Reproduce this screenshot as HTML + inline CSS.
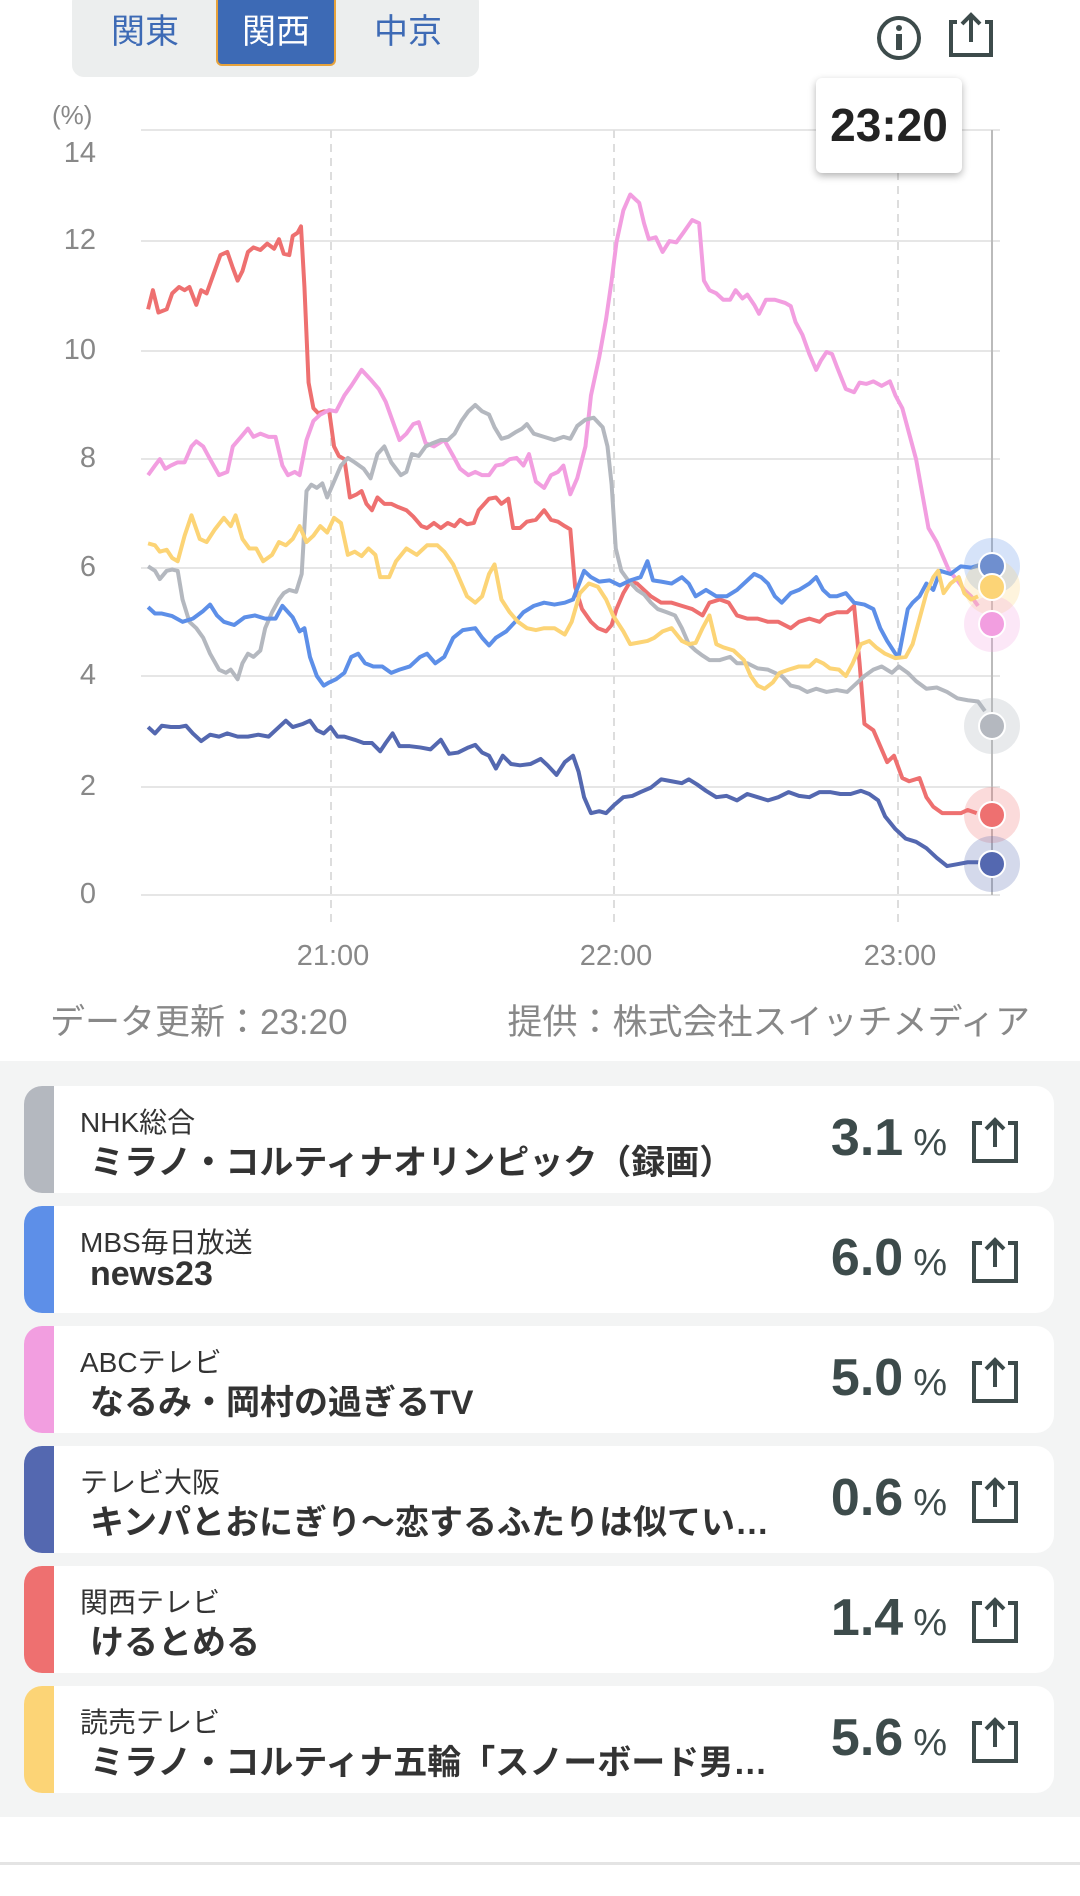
<!DOCTYPE html>
<html><head><meta charset="utf-8">
<style>
*{margin:0;padding:0;box-sizing:border-box}
body{width:1080px;height:1896px;background:#fff;font-family:"Liberation Sans","Noto Sans CJK JP",sans-serif;position:relative;overflow:hidden}
.abs{position:absolute}
.tabs{left:72px;top:-10px;width:407px;height:87px;background:#eceeee;border-radius:12px}
.tab{position:absolute;top:0;height:66px;line-height:64px;font-size:34px;color:#3d6ab5;text-align:center;width:120px}
.sel{left:216px;top:0;width:120px;height:66px;background:#3d6ab5;border:2px solid #e6a23c;border-top:none;border-radius:0 0 6px 6px;color:#fff}
.ylab{font-size:29px;color:#888;width:60px;text-align:right;left:36px}
.xlab{font-size:29px;color:#888;width:120px;text-align:center;top:940px}
.gray{left:0;top:1061px;width:1080px;height:756px;background:#f3f4f4}
.card{position:absolute;left:24px;width:1030px;height:107px;background:#fff;border-radius:18px;overflow:hidden}
.bar{position:absolute;left:0;top:0;width:30px;height:107px}
.ch{position:absolute;left:56px;top:15px;font-size:28px;color:#333}
.ti{position:absolute;left:66px;top:49px;font-size:34px;font-weight:bold;color:#333;white-space:nowrap}
.pc{position:absolute;right:107px;top:22px;font-size:52px;font-weight:bold;color:#3d4b4b}
.pc span{font-size:38px;font-weight:normal;margin-left:10px}
.sh{position:absolute;right:34px;top:31px}
</style></head><body>
<div class="abs tabs"></div>
<div class="abs tab" style="left:85px">関東</div>
<div class="abs tab sel">関西</div>
<div class="abs tab" style="left:348px">中京</div>

<svg class="abs" style="left:0;top:0" width="1080" height="1000">
 <circle cx="899" cy="38" r="20" fill="none" stroke="#3d4b4b" stroke-width="4"/>
 <circle cx="899" cy="28" r="3" fill="#3d4b4b"/>
 <rect x="896" y="34" width="6" height="16" fill="#3d4b4b"/>
 <path d="M957 22 L951 22 L951 55 L991 55 L991 22 L985 22" fill="none" stroke="#3d4b4b" stroke-width="4"/>
 <path d="M971 42 L971 15 M962 24 L971 15 L980 24" fill="none" stroke="#3d4b4b" stroke-width="4"/>
 <g stroke="#e6e6e6" stroke-width="2">
  <line x1="141" x2="1000" y1="130" y2="130"/><line x1="141" x2="1000" y1="241" y2="241"/>
  <line x1="141" x2="1000" y1="351" y2="351"/><line x1="141" x2="1000" y1="459" y2="459"/>
  <line x1="141" x2="1000" y1="568" y2="568"/><line x1="141" x2="1000" y1="676" y2="676"/>
  <line x1="141" x2="1000" y1="787" y2="787"/><line x1="141" x2="1000" y1="895" y2="895"/>
 </g>
 <g stroke="#ddd" stroke-width="2" stroke-dasharray="8,6">
  <line x1="331" x2="331" y1="130" y2="925"/><line x1="614" x2="614" y1="130" y2="925"/><line x1="898" x2="898" y1="130" y2="925"/>
 </g>
 <line x1="992" x2="992" y1="130" y2="895" stroke="#bbb" stroke-width="2"/>
</svg>
<div class="abs" style="left:52px;top:100px;font-size:26px;color:#888">(%)</div>
<div class="abs ylab" style="top:137px">14</div>
<div class="abs ylab" style="top:224px">12</div>
<div class="abs ylab" style="top:334px">10</div>
<div class="abs ylab" style="top:442px">8</div>
<div class="abs ylab" style="top:551px">6</div>
<div class="abs ylab" style="top:659px">4</div>
<div class="abs ylab" style="top:770px">2</div>
<div class="abs ylab" style="top:878px">0</div>
<div class="abs xlab" style="left:273px">21:00</div>
<div class="abs xlab" style="left:556px">22:00</div>
<div class="abs xlab" style="left:840px">23:00</div>

<svg class="abs" style="left:0;top:0" width="1080" height="1000" viewBox="0 0 1568 1568" preserveAspectRatio="none">
<g fill="none" stroke-width="4" stroke-linejoin="round">
<polyline vector-effect="non-scaling-stroke" stroke="#ee7070" points="215,485 222,455 230,490 242,485 250,460 260,450 268,455 275,450 285,478 292,455 300,460 310,430 320,400 330,395 338,420 345,440 352,425 360,395 368,388 378,392 388,382 398,390 405,375 412,398 420,400 425,370 432,365 437,355 442,450 448,600 455,640 462,648 470,645 478,645 485,700 492,715 500,720 508,780 518,775 525,770 532,790 540,800 548,780 558,790 568,790 578,795 590,800 600,810 612,825 620,828 630,820 640,828 650,820 660,825 668,815 678,822 688,820 695,800 710,782 720,780 728,790 738,782 745,828 755,828 765,818 778,815 790,800 800,815 810,818 820,825 828,830 835,920 845,955 858,975 868,985 880,990 888,980 895,955 905,930 915,912 925,915 935,925 945,935 960,945 975,945 990,950 1005,955 1020,965 1030,945 1045,940 1058,945 1070,965 1085,970 1100,970 1115,975 1130,975 1148,985 1160,975 1175,970 1190,975 1200,965 1215,960 1230,960 1240,950 1248,1040 1255,1135 1268,1145 1278,1170 1288,1195 1298,1185 1310,1220 1320,1225 1335,1220 1345,1250 1355,1265 1368,1275 1380,1275 1395,1275 1405,1270 1418,1275"/>
<polyline vector-effect="non-scaling-stroke" stroke="#f29ee0" points="215,745 225,730 232,720 240,735 248,730 258,725 268,725 278,700 285,692 295,700 305,720 318,745 330,740 338,700 350,685 360,672 368,685 378,680 390,685 400,685 410,730 418,745 428,740 435,745 445,690 455,660 465,650 478,643 488,645 500,620 510,605 525,580 538,595 550,610 560,630 570,660 580,690 590,680 600,665 608,662 618,695 630,700 645,690 658,715 668,735 680,745 690,740 700,745 710,745 720,730 730,728 740,720 750,718 760,730 768,712 778,755 790,765 800,745 810,740 818,730 828,775 838,750 850,700 858,620 870,560 880,500 888,440 895,380 905,330 915,305 928,318 935,350 942,375 952,372 962,395 972,378 982,380 992,365 1005,345 1015,350 1022,440 1030,455 1040,460 1050,470 1060,470 1068,455 1078,468 1085,462 1095,478 1102,492 1112,470 1125,470 1140,475 1148,480 1155,505 1165,525 1175,555 1185,580 1192,565 1200,552 1208,555 1215,575 1228,610 1240,615 1248,600 1258,602 1268,598 1280,605 1292,598 1300,620 1310,640 1320,680 1330,720 1340,780 1348,828 1360,850 1368,870 1378,895 1390,910 1400,925 1410,935 1420,950"/>
<polyline vector-effect="non-scaling-stroke" stroke="#b4b8bf" points="215,888 225,895 232,908 242,895 250,893 258,895 265,940 275,975 285,985 295,1000 305,1025 318,1050 328,1055 335,1050 345,1065 352,1040 360,1025 368,1030 378,1020 385,985 395,960 405,940 412,930 420,925 430,928 438,900 445,770 452,760 460,765 468,758 475,780 485,755 495,730 505,718 515,725 528,735 538,750 548,712 558,700 568,725 582,745 590,740 598,712 608,715 618,700 628,695 640,690 650,690 660,680 670,660 680,645 690,635 700,645 710,650 718,670 728,688 738,685 748,678 758,672 765,665 775,680 790,685 805,690 818,685 828,688 838,668 850,658 862,655 875,670 882,700 888,760 894,860 902,895 912,910 925,925 935,932 945,945 955,955 968,960 980,965 990,985 1000,1010 1010,1020 1020,1028 1030,1035 1045,1035 1060,1030 1070,1040 1085,1040 1100,1048 1115,1050 1125,1055 1135,1060 1148,1075 1160,1078 1172,1085 1185,1080 1200,1085 1215,1082 1230,1085 1240,1075 1255,1060 1268,1050 1280,1045 1295,1055 1305,1045 1318,1055 1330,1068 1345,1080 1360,1078 1375,1085 1390,1095 1405,1098 1420,1100 1430,1115"/>
<polyline vector-effect="non-scaling-stroke" stroke="#5d8fe8" points="215,952 225,962 235,962 250,966 265,975 280,970 295,958 305,948 315,965 325,975 340,980 355,968 370,965 385,970 400,970 410,950 425,968 435,990 442,985 450,1030 460,1060 470,1075 478,1070 488,1065 500,1055 510,1030 520,1025 530,1040 542,1045 555,1045 568,1055 580,1050 595,1045 610,1030 620,1025 632,1040 645,1030 658,1000 672,988 690,985 700,1000 710,1012 720,1000 735,990 748,975 760,960 775,950 790,945 805,948 820,945 832,940 848,895 858,905 870,912 885,910 900,918 915,910 930,905 940,880 948,910 960,912 975,915 990,905 1000,915 1010,935 1025,925 1040,935 1055,935 1070,925 1085,910 1095,900 1105,905 1115,915 1125,935 1135,945 1148,930 1160,925 1175,915 1185,905 1195,925 1205,935 1215,935 1228,930 1240,945 1255,948 1268,955 1278,985 1288,1005 1300,1025 1305,1028 1310,1000 1318,955 1325,945 1335,935 1345,915 1355,925 1365,895 1380,900 1395,888 1410,890 1425,885"/>
<polyline vector-effect="non-scaling-stroke" stroke="#fcd476" points="215,852 225,855 232,865 242,862 250,875 258,880 268,840 278,808 290,845 300,850 312,830 325,812 335,825 342,808 352,845 362,860 372,860 382,880 395,870 405,850 415,855 425,845 435,825 445,850 455,840 465,825 475,835 485,812 495,820 505,870 515,865 525,872 535,860 545,870 552,905 565,905 575,880 590,860 605,870 620,855 635,855 645,865 658,885 668,910 678,935 690,945 700,935 710,900 718,885 728,940 740,960 752,975 765,985 778,988 790,985 805,985 820,995 830,975 842,930 855,915 868,920 880,940 890,965 905,990 915,1010 925,1008 940,1005 950,1000 962,990 975,985 990,1005 1000,1010 1010,1008 1020,985 1030,965 1040,1010 1050,1015 1065,1020 1080,1035 1090,1060 1100,1075 1110,1080 1122,1070 1132,1055 1145,1050 1160,1045 1175,1045 1185,1035 1195,1040 1205,1048 1218,1050 1228,1060 1238,1040 1250,1010 1262,1005 1272,1015 1285,1025 1300,1032 1315,1030 1325,1010 1335,970 1345,930 1355,905 1362,895 1370,930 1380,915 1392,905 1400,930 1410,940 1420,935"/>
<polyline vector-effect="non-scaling-stroke" stroke="#5468b0" points="215,1140 225,1150 235,1138 248,1140 260,1140 270,1138 280,1150 292,1162 305,1152 318,1155 330,1150 345,1155 360,1155 375,1152 390,1155 405,1140 415,1130 425,1140 440,1135 450,1130 460,1145 470,1150 480,1140 490,1155 500,1155 515,1160 528,1165 540,1165 552,1178 560,1165 570,1150 580,1170 595,1170 610,1172 625,1175 640,1160 652,1182 665,1180 680,1172 690,1168 700,1180 710,1185 720,1205 730,1185 742,1198 755,1200 770,1198 785,1190 795,1200 808,1215 820,1195 832,1185 840,1210 848,1250 858,1275 870,1272 880,1275 892,1262 905,1250 918,1248 930,1242 945,1235 960,1222 975,1225 990,1228 1000,1222 1012,1230 1025,1240 1040,1250 1055,1248 1070,1255 1085,1245 1100,1250 1115,1255 1130,1250 1145,1242 1160,1248 1175,1250 1190,1242 1205,1242 1220,1245 1235,1245 1250,1240 1262,1245 1275,1255 1285,1280 1300,1300 1315,1315 1330,1320 1345,1330 1360,1345 1375,1358 1390,1355 1405,1352 1425,1352"/>
</g></svg>

<svg class="abs" style="left:0;top:0" width="1080" height="1000">
 <circle cx="992" cy="566" r="28" fill="#5d8fe8" opacity="0.25"/>
 <circle cx="992" cy="587" r="28" fill="#fcd476" opacity="0.25"/>
 <circle cx="992" cy="624" r="28" fill="#f29ee0" opacity="0.25"/>
 <circle cx="992" cy="726" r="28" fill="#b4b8bf" opacity="0.3"/>
 <circle cx="992" cy="815" r="28" fill="#ee7070" opacity="0.25"/>
 <circle cx="992" cy="864" r="28" fill="#5468b0" opacity="0.25"/>
 <g stroke="#fff" stroke-width="2">
 <circle cx="992" cy="566" r="13" fill="#6f8fcf"/>
 <circle cx="992" cy="726" r="13" fill="#b4b8bf"/>
 <circle cx="992" cy="815" r="13" fill="#ee7070"/>
 <circle cx="992" cy="864" r="13" fill="#5468b0"/>
 <circle cx="992" cy="624" r="13" fill="#f29ee0"/>
 <circle cx="992" cy="587" r="13" fill="#fcd476"/>
 </g>
</svg>

<div class="abs" style="left:816px;top:78px;width:146px;height:95px;background:#fff;border-radius:6px;box-shadow:0 3px 8px rgba(0,0,0,0.3);text-align:center;line-height:95px;font-size:46px;font-weight:bold;color:#222">23:20</div>

<div class="abs" style="left:50px;top:994px;font-size:35px;color:#888">データ更新：23:20</div>
<div class="abs" style="right:50px;top:994px;font-size:35px;color:#888">提供：株式会社スイッチメディア</div>

<div class="abs gray">
 <div class="card" style="top:25px"><div class="bar" style="background:#b4b8bf"></div><div class="ch">NHK総合</div><div class="ti">ミラノ・コルティナオリンピック（録画）</div><div class="pc">3.1<span>%</span></div><svg class="sh" width="50" height="48"><path d="M12 6 L4 6 L4 44 L46 44 L46 6 L38 6 M25 30 L25 3 M16 12 L25 3 L34 12" fill="none" stroke="#3d4b4b" stroke-width="4"/></svg></div>
 <div class="card" style="top:145px"><div class="bar" style="background:#5d8fe8"></div><div class="ch">MBS毎日放送</div><div class="ti">news23</div><div class="pc">6.0<span>%</span></div><svg class="sh" width="50" height="48"><path d="M12 6 L4 6 L4 44 L46 44 L46 6 L38 6 M25 30 L25 3 M16 12 L25 3 L34 12" fill="none" stroke="#3d4b4b" stroke-width="4"/></svg></div>
 <div class="card" style="top:265px"><div class="bar" style="background:#f29ee0"></div><div class="ch">ABCテレビ</div><div class="ti">なるみ・岡村の過ぎるTV</div><div class="pc">5.0<span>%</span></div><svg class="sh" width="50" height="48"><path d="M12 6 L4 6 L4 44 L46 44 L46 6 L38 6 M25 30 L25 3 M16 12 L25 3 L34 12" fill="none" stroke="#3d4b4b" stroke-width="4"/></svg></div>
 <div class="card" style="top:385px"><div class="bar" style="background:#5468b0"></div><div class="ch">テレビ大阪</div><div class="ti">キンパとおにぎり～恋するふたりは似てい…</div><div class="pc">0.6<span>%</span></div><svg class="sh" width="50" height="48"><path d="M12 6 L4 6 L4 44 L46 44 L46 6 L38 6 M25 30 L25 3 M16 12 L25 3 L34 12" fill="none" stroke="#3d4b4b" stroke-width="4"/></svg></div>
 <div class="card" style="top:505px"><div class="bar" style="background:#ee7070"></div><div class="ch">関西テレビ</div><div class="ti">けるとめる</div><div class="pc">1.4<span>%</span></div><svg class="sh" width="50" height="48"><path d="M12 6 L4 6 L4 44 L46 44 L46 6 L38 6 M25 30 L25 3 M16 12 L25 3 L34 12" fill="none" stroke="#3d4b4b" stroke-width="4"/></svg></div>
 <div class="card" style="top:625px"><div class="bar" style="background:#fcd476"></div><div class="ch">読売テレビ</div><div class="ti">ミラノ・コルティナ五輪「スノーボード男…</div><div class="pc">5.6<span>%</span></div><svg class="sh" width="50" height="48"><path d="M12 6 L4 6 L4 44 L46 44 L46 6 L38 6 M25 30 L25 3 M16 12 L25 3 L34 12" fill="none" stroke="#3d4b4b" stroke-width="4"/></svg></div>
</div>
<div class="abs" style="left:0;top:1862px;width:1080px;height:3px;background:#e4e4e4"></div>
</body></html>
